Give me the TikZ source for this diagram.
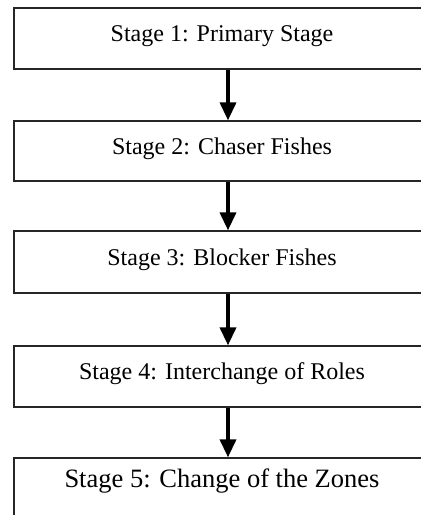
\documentclass[tikz,border=0pt]{standalone}
\usepackage{fontspec}
\setmainfont{Liberation Serif}
\usetikzlibrary{arrows.meta}
\tikzset{
  stagebox/.style={draw=black!85, line width=1.3pt, minimum width=416pt,
    inner sep=0pt, font=\fontsize{24}{28}\selectfont,
    text height=16pt, text depth=10pt},
  flowarrow/.style={line width=3.6pt,
    -{Triangle[width=16pt,length=18pt]}}
}
\begin{document}
\begin{tikzpicture}[x=1pt,y=1pt]
  \useasboundingbox (0,0) rectangle (421,-515);
  \node[stagebox, minimum height=61pt] (s1) at (222,-38.5) {Stage 1: Primary Stage};
  \node[stagebox, minimum height=60pt] (s2) at (222,-151) {Stage 2: Chaser Fishes};
  \node[stagebox, minimum height=62pt] (s3) at (222,-262) {Stage 3: Blocker Fishes};
  \node[stagebox, minimum height=61pt] (s4) at (222,-376.5) {Stage 4: Interchange of Roles};
  \node[stagebox, minimum height=61pt, font=\fontsize{26.5}{30}\selectfont,
        text height=15pt, text depth=18pt] (s5) at (222,-488.5) {Stage 5: Change of the Zones};
  \coordinate (ax) at (228,0);
  \draw[flowarrow] (s1.south -| ax) -- (s2.north -| ax);
  \draw[flowarrow] (s2.south -| ax) -- (s3.north -| ax);
  \draw[flowarrow] (s3.south -| ax) -- (s4.north -| ax);
  \draw[flowarrow] (s4.south -| ax) -- (s5.north -| ax);
\end{tikzpicture}
\end{document}
